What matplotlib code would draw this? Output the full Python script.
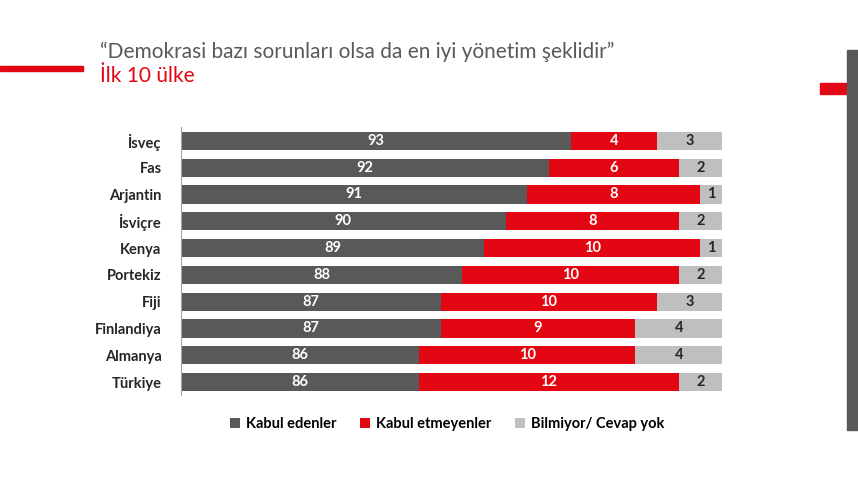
import numpy as np
import matplotlib
matplotlib.use("Agg")
import matplotlib.pyplot as plt
from matplotlib.patches import Rectangle

plt.rcParams["font.family"] = ["Lato", "DejaVu Sans"]

# Data
countries = ["İsveç", "Fas", "Arjantin", "İsviçre", "Kenya",
             "Portekiz", "Fiji", "Finlandiya", "Almanya", "Türkiye"]
accept = [93, 92, 91, 90, 89, 88, 87, 87, 86, 86]
reject = [4, 6, 8, 8, 10, 10, 10, 9, 10, 12]
unknown = [3, 2, 1, 2, 1, 2, 3, 4, 4, 2]
series_names = ["Kabul edenler", "Kabul etmeyenler", "Bilmiyor/ Cevap yok"]

colors = ["#595959", "#E30613", "#BFBFBF"]
text_colors = ["white", "white", "#262626"]
x_min, x_max = 75, 100

fig = plt.figure(figsize=(8.58, 4.82), dpi=100)
W, H = 858, 482

# Decorations
fig.patches.append(Rectangle((0, 1 - 71 / H), 83 / W, 5 / H, transform=fig.transFigure,
                             color="#E30613", zorder=0))
fig.patches.append(Rectangle((820 / W, 1 - 94 / H), 27 / W, 11 / H, transform=fig.transFigure,
                             color="#E30613", zorder=0))
fig.patches.append(Rectangle((847 / W, 1 - 430 / H), 11 / W, 380 / H, transform=fig.transFigure,
                             color="#595959", zorder=0))

fig.text(100 / W, 1 - 52 / H, "“Demokrasi bazı sorunları olsa da en iyi yönetim şeklidir”",
         fontsize=15, color="#595959", va="center", ha="left")
fig.text(100 / W, 1 - 76 / H, "İlk 10 ülke", fontsize=15, color="#E30613",
         va="center", ha="left")

ax = fig.add_axes([181 / W, 1 - 395.5 / H, 541 / W, 268 / H])
y = np.arange(len(countries))[::-1]
left = np.zeros(len(countries))
for vals, c, tc, name in zip([accept, reject, unknown], colors, text_colors, series_names):
    vals = np.array(vals, dtype=float)
    ax.barh(y, vals, left=left, height=0.68, color=c, label=name, edgecolor="none")
    for yi, l, v in zip(y, left, vals):
        start = max(l, x_min)
        ax.text((start + l + v) / 2, yi, f"{int(v)}", ha="center", va="center",
                color=tc, fontsize=10.5, fontweight="bold")
    left += vals

ax.set_xlim(x_min, x_max)
ax.set_ylim(-0.5, len(countries) - 0.5)
ax.set_yticks(y)
ax.set_yticklabels(countries, fontsize=10.5, fontweight="bold", color="#262626")
ax.tick_params(axis="y", length=0, pad=14)
ax.set_xticks([])
for s in ["top", "right", "bottom"]:
    ax.spines[s].set_visible(False)
ax.spines["left"].set_color("#A6A6A6")
ax.spines["left"].set_linewidth(0.8)

handles, labels = ax.get_legend_handles_labels()
fig.legend(handles, labels, loc="center", bbox_to_anchor=(447 / W, 1 - 424 / H),
           ncol=3, frameon=False, handlelength=0.7, handleheight=0.7,
           columnspacing=1.6, handletextpad=0.4,
           prop={"weight": "bold", "size": 10.5})

fig.savefig("out.png", dpi=100)
